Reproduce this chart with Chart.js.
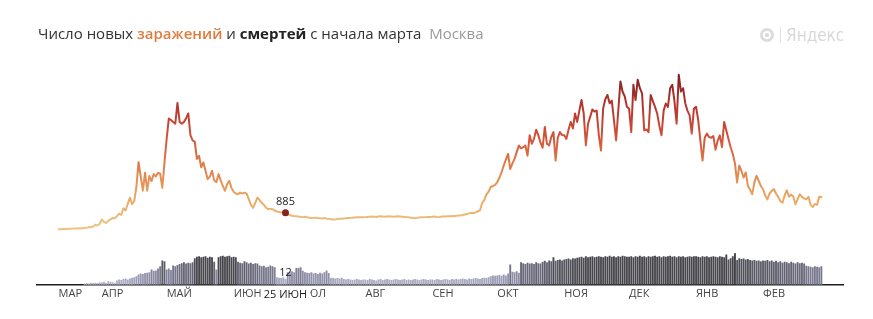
<!DOCTYPE html>
<html lang="ru">
<head>
<meta charset="utf-8">
<title>Москва — заражения и смерти</title>
<script src="https://cdn.jsdelivr.net/npm/chart.js@4.4.1/dist/chart.umd.min.js"></script>
<style>
    html, body { margin: 0; padding: 0; background: #fff; }
    #wrap { position: relative; width: 873px; height: 319px; overflow: hidden; }
    #chart { position: absolute; left: 0; top: 0; }
    #title {
        position: absolute; left: 38px; top: 23px;
        font: 15px 'Open Sans', sans-serif; color: #333; white-space: pre;
    }
    #title .inf { color: #e07b3e; font-weight: 600; }
    #title .dth { color: #222; font-weight: 700; }
    #title .city { color: #9a9a9a; }
    #logo { position: absolute; left: 760px; top: 25px; height: 20px; display: flex; align-items: center; }
    #logo .ico {
        width: 8px; height: 8px; border-radius: 50%;
        border: 3px solid #dcdcdc;
        background: radial-gradient(circle, #dcdcdc 0 2px, #fff 2.5px);
    }
    #logo .sep { width: 1px; height: 16px; background: #e0e0e0; margin: 0 5px 0 6px; }
    #logo .txt { font: 17px 'Liberation Sans Narrow', 'DejaVu Sans Condensed', sans-serif; color: #d8d8d8; }
</style>
</head>
<body>
<div id="wrap">
    <canvas id="chart" width="873" height="319"></canvas>
    <div id="title">Число новых <span class="inf">заражений</span> и <span class="dth">смертей</span> с начала марта  <span class="city">Москва</span></div>
    <div id="logo"><span class="ico"></span><span class="sep"></span><span class="txt">Яндекс</span></div>
</div>
<script>
// ===== Москва: новые заражения и смерти, 12.03.2020 – 28.02.2021 =====
// день 0 = 1 марта 2020

// Новые заражения по месяцам (с 12 марта)
const casesMar = [5, 10, 15, 20, 25, 35, 30, 40, 45, 55, 50, 70, 65, 90, 120, 110, 150, 250, 200, 300];
const casesApr = [520, 400, 340, 450, 530, 600, 590, 700, 840, 760, 1120, 1000, 1350, 1680, 1340, 1500, 2250, 3560, 2800, 2050, 3000, 2050, 2830, 2560, 2930, 2800, 3000, 2950, 2200, 3550];
const casesMay = [4800, 5880, 5800, 5700, 5610, 6700, 5700, 5610, 5700, 5900, 6150, 5000, 4720, 4650, 3740, 3900, 3290, 3550, 3100, 2660, 2800, 3110, 2600, 2500, 2930, 2600, 2300, 2040, 2400, 2570, 2200];
const casesJun = [2000, 1900, 1860, 1950, 1900, 1950, 1900, 1600, 1300, 1140, 1400, 1680, 1550, 1410, 1300, 1150, 1070, 1100, 1070, 1000, 950, 920, 900, 870, 885, 800, 760, 720, 700, 690];
const casesJul = [680, 660, 650, 670, 640, 620, 600, 610, 620, 600, 590, 580, 600, 570, 560, 540, 520, 530, 550, 560, 570, 580, 590, 600, 610, 620, 630, 640, 640, 650, 640];
const casesAug = [650, 660, 670, 680, 670, 660, 680, 690, 680, 670, 680, 690, 680, 670, 680, 690, 680, 670, 660, 650, 640, 620, 600, 590, 610, 630, 650, 640, 650, 660, 660];
const casesSep = [670, 680, 660, 650, 670, 690, 680, 700, 690, 710, 700, 720, 730, 740, 760, 790, 820, 850, 880, 870, 900, 960, 1000, 1400, 1560, 1860, 2000, 2250, 2300, 2360];
const casesOct = [2500, 2750, 3020, 3400, 3700, 4000, 3200, 3500, 3740, 4100, 4450, 4300, 4360, 4450, 3910, 4990, 4540, 4800, 5290, 5000, 4600, 4330, 5430, 4540, 4450, 4900, 5160, 3650, 4860, 5160, 5000];
const casesNov = [4990, 4800, 5300, 5700, 5350, 6150, 5700, 6300, 6860, 6150, 4450, 5600, 5970, 6360, 6250, 6300, 5000, 4180, 6420, 6900, 7130, 6690, 6830, 5800, 4720, 6300, 7850, 7300, 7050, 6500];
const casesDec = [6400, 5160, 7670, 6860, 7940, 7490, 7220, 5250, 5300, 5160, 7130, 6800, 6500, 6150, 5500, 4990, 6300, 6680, 6500, 7490, 7670, 6800, 5610, 8200, 7310, 7490, 6690, 6300, 6060, 5080, 6400];
const casesJan = [6500, 5790, 4700, 3650, 4860, 5080, 4900, 4860, 4950, 4220, 4700, 4990, 4360, 5700, 5250, 4800, 4360, 4000, 3500, 2480, 3380, 3100, 2750, 3020, 2300, 2100, 1860, 2500, 2840, 2570, 2300];
const casesFeb = [2130, 1800, 1590, 1900, 2040, 2130, 1900, 1730, 1500, 1410, 1800, 2070, 1730, 1850, 1750, 1320, 1600, 1860, 1720, 1650, 1590, 1730, 1300, 1180, 1350, 1300, 1730, 1700];

// Смерти по месяцам (с 24 марта)
const deathsMar = [2, 3, 2, 4, 3, 4, 3, 5];
const deathsApr = [5, 6, 4, 7, 6, 5, 4, 9, 11, 10, 12, 13, 11, 13, 15, 16, 18, 22, 24, 23, 25, 26, 27, 33, 30, 31, 35, 40, 53, 51];
const deathsMay = [33, 35, 32, 42, 40, 43, 45, 47, 49, 46, 48, 47, 49, 58, 61, 62, 60, 61, 62, 59, 61, 60, 50, 33, 60, 62, 63, 61, 62, 63, 60];
const deathsJun = [61, 60, 50, 48, 47, 51, 49, 46, 48, 45, 47, 46, 42, 40, 41, 38, 39, 42, 40, 38, 16, 15, 14, 16, 12, 27, 28, 29, 27, 36];
const deathsJul = [36, 38, 30, 27, 26, 25, 27, 24, 25, 23, 26, 24, 27, 31, 25, 15, 14, 13, 14, 13, 15, 12, 11, 12, 11, 10, 11, 12, 11, 10, 11];
const deathsAug = [11, 10, 12, 11, 10, 9, 11, 12, 10, 11, 12, 11, 10, 11, 12, 11, 10, 11, 12, 10, 11, 10, 11, 12, 11, 10, 11, 12, 11, 10, 11];
const deathsSep = [11, 10, 12, 11, 10, 11, 12, 11, 10, 12, 11, 12, 11, 12, 13, 12, 11, 13, 12, 13, 14, 13, 12, 14, 15, 14, 16, 18, 20, 19];
const deathsOct = [20, 21, 19, 22, 20, 24, 44, 28, 27, 29, 26, 49, 47, 45, 48, 46, 47, 45, 49, 47, 46, 50, 52, 49, 53, 51, 60, 52, 54, 55, 53];
const deathsNov = [55, 56, 57, 55, 58, 57, 59, 60, 61, 59, 62, 60, 61, 62, 60, 61, 62, 61, 60, 62, 61, 63, 61, 62, 60, 62, 61, 63, 62, 61];
const deathsDec = [61, 62, 60, 62, 61, 63, 61, 62, 60, 62, 61, 62, 63, 61, 62, 60, 62, 61, 62, 63, 61, 62, 60, 62, 61, 62, 60, 61, 62, 61, 62];
const deathsJan = [62, 61, 60, 62, 61, 62, 60, 61, 62, 61, 60, 62, 61, 60, 66, 55, 58, 62, 69, 54, 58, 56, 57, 55, 56, 54, 53, 54, 52, 53, 51];
const deathsFeb = [53, 52, 54, 51, 53, 50, 52, 49, 51, 48, 50, 49, 47, 50, 48, 46, 49, 47, 48, 46, 41, 40, 39, 38, 40, 39, 38, 40];

const casesStartDay = 11;   // 12 марта
const deathsStartDay = 23;  // 24 марта

// Подписи месяцев и дни, с которых они начинаются
const monthLabels = ['МАР', 'АПР', 'МАЙ', 'ИЮН', 'ИЮЛ', 'АВГ', 'СЕН', 'ОКТ', 'НОЯ', 'ДЕК', 'ЯНВ', 'ФЕВ'];
const monthDays = [11, 31, 61, 92, 122, 153, 184, 214, 245, 275, 306, 337];

// Выделенный день: 25 июня
const highlightDay = 116;
const highlightLabel = '25 ИЮН';

const casesAll = [].concat(casesMar, casesApr, casesMay, casesJun, casesJul, casesAug,
    casesSep, casesOct, casesNov, casesDec, casesJan, casesFeb);
const deathsAll = [].concat(deathsMar, deathsApr, deathsMay, deathsJun, deathsJul, deathsAug,
    deathsSep, deathsOct, deathsNov, deathsDec, deathsJan, deathsFeb);

const casesPoints = casesAll.map((v, i) => ({ x: casesStartDay + i, y: v }));
const deathsPoints = deathsAll.map((v, i) => ({ x: deathsStartDay + i, y: v }));

const highlightCases = casesAll[highlightDay - casesStartDay];
const highlightDeaths = deathsAll[highlightDay - deathsStartDay];

// Цвета
const lineStops = [
    [0, [238, 196, 132]],
    [1500, [233, 172, 102]],
    [3500, [224, 122, 72]],
    [5000, [208, 80, 56]],
    [6500, [184, 54, 46]],
    [8200, [128, 34, 34]]
];
const barStops = [
    [0, [188, 188, 210]],
    [20, [156, 156, 182]],
    [45, [112, 112, 132]],
    [54, [88, 88, 98]],
    [60, [72, 72, 78]],
    [70, [60, 60, 64]]
];

function colorFor(stops, v) {
    if (v <= stops[0][0]) return 'rgb(' + stops[0][1].join(',') + ')';
    for (let i = 1; i < stops.length; i++) {
        if (v <= stops[i][0]) {
            const a = stops[i - 1], b = stops[i];
            const t = (v - a[0]) / (b[0] - a[0]);
            const c = a[1].map((ch, k) => Math.round(ch + (b[1][k] - ch) * t));
            return 'rgb(' + c.join(',') + ')';
        }
    }
    return 'rgb(' + stops[stops.length - 1][1].join(',') + ')';
}

function lineGradient(context) {
    const chart = context.chart;
    const { ctx, chartArea, scales } = chart;
    if (!chartArea) return colorFor(lineStops, 0);
    const y0 = scales.y.getPixelForValue(0);
    const y1 = scales.y.getPixelForValue(8200);
    const g = ctx.createLinearGradient(0, y0, 0, y1);
    lineStops.forEach(s => g.addColorStop(s[0] / 8200, colorFor(lineStops, s[0])));
    return g;
}

// Подписи выделенного дня
const highlightPlugin = {
    id: 'highlight',
    afterDraw(chart) {
        const { ctx, chartArea, scales } = chart;
        const px = scales.x.getPixelForValue(highlightDay);
        const cy = scales.y.getPixelForValue(highlightCases);
        const by = scales.y2.getPixelForValue(highlightDeaths);
        ctx.save();
        ctx.font = "11px 'Open Sans', sans-serif";
        ctx.textAlign = 'center';
        ctx.textBaseline = 'bottom';
        ctx.fillStyle = '#222';
        ctx.fillText(String(highlightCases), px, cy - 5);
        ctx.fillText(String(highlightDeaths), px, by - 1);

        const w = ctx.measureText(highlightLabel).width;
        const ly = chartArea.bottom + 10;
        ctx.fillStyle = '#fff';
        ctx.fillRect(px - w / 2 - 3, ly - 7, w + 6, 14);
        ctx.fillStyle = '#222';
        ctx.textBaseline = 'middle';
        ctx.fillText(highlightLabel, px, ly);
        ctx.restore();
    }
};

Chart.defaults.font.family = "'Open Sans', sans-serif";

new Chart(document.getElementById('chart'), {
    type: 'bar',
    data: {
        datasets: [
            {
                type: 'line',
                label: 'Заражения',
                data: casesPoints,
                yAxisID: 'y',
                borderColor: lineGradient,
                borderWidth: 2,
                borderJoinStyle: 'round',
                borderCapStyle: 'round',
                tension: 0,
                pointRadius: ctx => (ctx.raw && ctx.raw.x === highlightDay ? 3.5 : 0),
                pointBackgroundColor: '#8c1f1f',
                pointBorderWidth: 0,
                order: 0
            },
            {
                type: 'bar',
                label: 'Смерти',
                data: deathsPoints,
                yAxisID: 'y2',
                backgroundColor: ctx => colorFor(barStops, ctx.raw ? ctx.raw.y : 0),
                barThickness: 1.2,
                order: 1
            }
        ]
    },
    options: {
        responsive: false,
        animation: false,
        layout: { padding: { left: 37, right: 30, top: 60, bottom: 17 } },
        plugins: {
            legend: { display: false },
            tooltip: { enabled: false }
        },
        scales: {
            x: {
                type: 'linear',
                offset: false,
                min: 1,
                max: 374,
                grid: { display: false, drawTicks: false },
                border: { display: true, color: '#1e1e1e', width: 1.5 },
                afterBuildTicks: axis => {
                    axis.ticks = monthDays.map(v => ({ value: v }));
                },
                ticks: {
                    autoSkip: false,
                    maxRotation: 0,
                    align: 'start',
                    padding: 2,
                    color: '#444',
                    font: { size: 11 },
                    callback: (value, index) => monthLabels[index]
                }
            },
            y: { display: false, min: -2940, max: 8985 },
            y2: { display: false, min: 0, max: 495 }
        }
    },
    plugins: [highlightPlugin]
});
</script>
</body>
</html>
